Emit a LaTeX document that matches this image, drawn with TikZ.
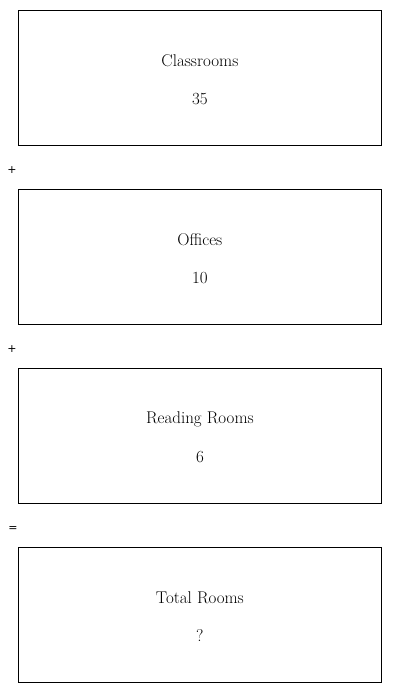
\documentclass[tikz,border=0pt]{standalone}
\usepackage{fontspec}
\newfontfamily\symfont{DejaVu Sans}
\begin{document}
\begin{tikzpicture}[x=1pt,y=-1pt,
  box/.style={draw,line width=0.8pt,minimum width=363pt,minimum height=135pt,anchor=north west,inner sep=0pt},
  lbl/.style={font=\fontsize{17}{20}\selectfont},
  op/.style={font=\symfont\fontsize{11}{13}\selectfont}]
\useasboundingbox (0,0) rectangle (400,693);
\node[box] (b1) at (18,10) {};
\node[box] (b2) at (18,189) {};
\node[box] (b3) at (18,368) {};
\node[box] (b4) at (18,547) {};
\node[lbl] (t1) at ([yshift=17pt]b1.center) {Classrooms};
\node[lbl] (n1) at ([yshift=-21pt]b1.center) {35};
\node[lbl] (t2) at ([yshift=17pt]b2.center) {Offices};
\node[lbl] (n2) at ([yshift=-21pt]b2.center) {10};
\node[lbl] (t3) at ([yshift=17pt]b3.center) {Reading Rooms};
\node[lbl] (n3) at ([yshift=-21pt]b3.center) {6};
\node[lbl] (t4) at ([yshift=17pt]b4.center) {Total Rooms};
\node[lbl] (n4) at ([yshift=-21pt]b4.center) {?};
\node[op] (p1) at (12,170) {+};
\node[op] (p2) at (12,349) {+};
\node[op] (p3) at (13,529) {=};
\end{tikzpicture}
\end{document}
